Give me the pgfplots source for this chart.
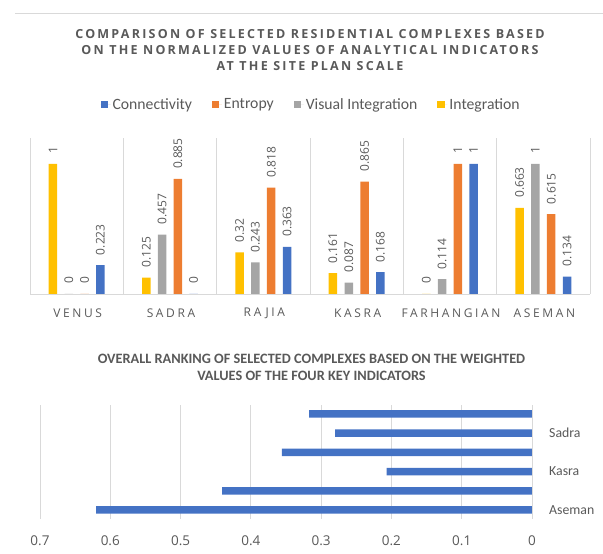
\documentclass[border=0pt]{standalone}
\usepackage{pgfplots}
\pgfplotsset{compat=1.18}
\usepackage{fontspec}
\setmainfont{Carlito}
\newfontfamily\osans{Open Sans}
\newfontfamily\titlefont[LetterSpace=18]{Open Sans}
\newfontfamily\catfont[LetterSpace=22]{Open Sans}
\definecolor{cblue}{HTML}{4472C4}
\definecolor{corange}{HTML}{ED7D31}
\definecolor{cgray}{HTML}{A5A5A5}
\definecolor{cgold}{HTML}{FFC000}
\definecolor{txt}{HTML}{595959}
\definecolor{gridc}{HTML}{D9D9D9}
\begin{document}
\begin{tikzpicture}
\path[use as bounding box] (0,0) rectangle (603bp,554bp);
\draw[gridc, line width=0.75bp] (15bp,541bp) -- (603bp,541bp);
% top chart
\begin{axis}[
  at={(30bp,260bp)}, anchor=south west, scale only axis,
  width=560bp, height=156bp,
  /pgf/number format/assume math mode=true,
  ybar, bar width=8.5bp,
  xmin=-0.5, xmax=5.5, ymin=0, ymax=1.2,
  axis line style={draw=none},
  xtick={0,1,2,3,4,5},
  xticklabels={VENUS,SADRA,RAJIA,KASRA,FARHANGIAN,ASEMAN},
  minor xtick={-0.5,0.5,1.5,2.5,3.5,4.5,5.5},
  xminorgrids, minor grid style={gridc, line width=0.75bp},
  ytick={0}, yticklabels={}, ymajorgrids, major grid style={gridc, line width=0.75bp},
  major tick length=0pt, minor tick length=0pt,
  xticklabel style={anchor=center, yshift=-19bp, xshift=1bp, font=\catfont\fontsize{12bp}{14bp}\selectfont, text=txt},
  nodes near coords={\pgfmathprintnumber[fixed,precision=3]{\pgfplotspointmeta}},
  every node near coord/.append style={rotate=90, anchor=west, inner sep=0pt, outer sep=10bp, font=\osans\fontsize{12bp}{14bp}\selectfont, text=txt},
  legend columns=4,
  legend style={draw=none, fill=none, at={(axis description cs:0.502,1.215)}, anchor=center,
    font=\fontsize{15.7bp}{18bp}\selectfont, text=txt,
    /tikz/every even column/.append style={column sep=18bp}},
  legend image code/.code={\fill[#1] (0bp,-3.6bp) rectangle (7.5bp,3.6bp); \path (0bp,0bp) -- (10bp,0bp);},
]
\addplot[fill=cblue, draw=none, bar shift=23.7bp] coordinates {(0,0.223) (1,0) (2,0.363) (3,0.168) (4,1) (5,0.134)};
\addlegendentry{Connectivity}
\addplot[fill=corange, draw=none, bar shift=7.9bp] coordinates {(0,0) (1,0.885) (2,0.818) (3,0.865) (4,1) (5,0.615)};
\addlegendentry{Entropy}
\addplot[fill=cgray, draw=none, bar shift=-7.9bp] coordinates {(0,0) (1,0.457) (2,0.243) (3,0.087) (4,0.114) (5,1)};
\addlegendentry{Visual Integration}
\addplot[fill=cgold, draw=none, bar shift=-23.7bp] coordinates {(0,1) (1,0.125) (2,0.32) (3,0.161) (4,0) (5,0.663)};
\addlegendentry{Integration}
\end{axis}
% bottom chart
\begin{axis}[
  at={(40bp,35.4bp)}, anchor=south west, scale only axis,
  width=492bp, height=113.7bp,
  /pgf/number format/assume math mode=true,
  xbar, bar width=7.5bp,
  x dir=reverse,
  xmin=0, xmax=0.7, ymin=-0.45, ymax=5.47,
  axis line style={draw=none},
  xtick={0,0.1,0.2,0.3,0.4,0.5,0.6,0.7},
  xmajorgrids, major grid style={gridc, line width=0.75bp},
  ytick={0,2,4}, yticklabels={Aseman,Kasra,Sadra},
  yticklabel pos=right,
  major tick length=0pt,
  xticklabel style={anchor=center, yshift=-22bp, font=\osans\fontsize{13.5bp}{15bp}\selectfont, text=txt},
  yticklabel style={anchor=west, inner sep=0pt, xshift=17bp, font=\fontsize{13.8bp}{16bp}\selectfont, text=txt},
]
\addplot[fill=cblue, draw=none, bar shift=0pt] coordinates {(0.317,5) (0.280,4) (0.356,3) (0.207,2) (0.441,1) (0.620,0)};
\end{axis}
% titles
\begin{scope}[every node/.style={inner sep=0pt, text=txt}]
\node[font=\titlefont\bfseries\fontsize{12.5bp}{14bp}\selectfont] at (310bp,519.5bp) {COMPARISON OF SELECTED RESIDENTIAL COMPLEXES BASED};
\node[font=\titlefont\bfseries\fontsize{12.5bp}{14bp}\selectfont] at (310bp,504bp) {ON THE NORMALIZED VALUES OF ANALYTICAL INDICATORS};
\node[font=\titlefont\bfseries\fontsize{12.5bp}{14bp}\selectfont] at (310bp,488bp) {AT THE SITE PLAN SCALE};
\node[font=\bfseries\fontsize{14.3bp}{16bp}\selectfont] at (311.5bp,195.3bp) {OVERALL RANKING OF SELECTED COMPLEXES BASED ON THE WEIGHTED};
\node[font=\bfseries\fontsize{14.3bp}{16bp}\selectfont] at (311.5bp,178.3bp) {VALUES OF THE FOUR KEY INDICATORS};
\end{scope}
\end{tikzpicture}
\end{document}
